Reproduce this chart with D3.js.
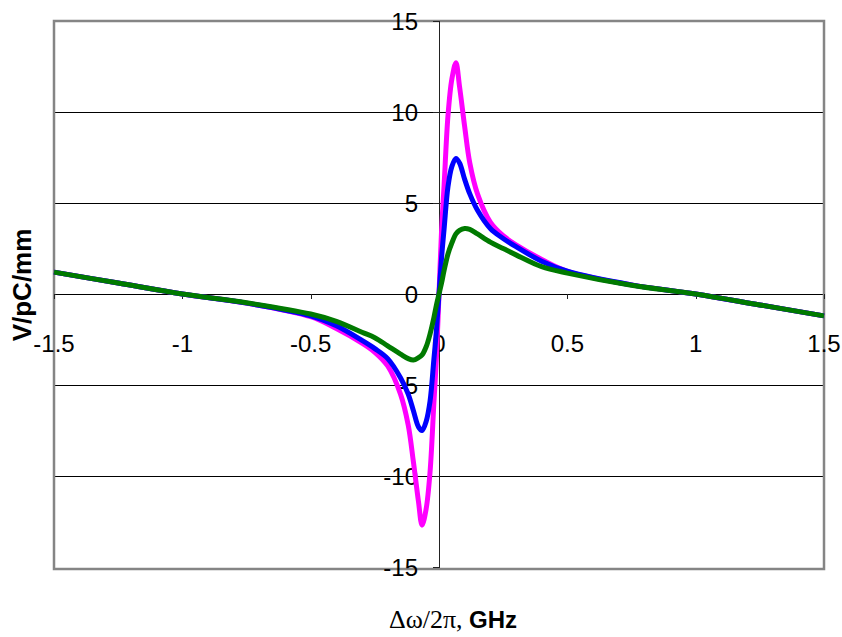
<!DOCTYPE html>
<html>
<head>
<meta charset="utf-8">
<script src="https://cdn.jsdelivr.net/npm/d3@7"></script>
<style>
  body { margin: 0; background: #fff; }
  svg { display: block; font-family: "Liberation Sans", Arial, sans-serif; }
  .tick-label { font-size: 24px; fill: #000; }
  .title { font-weight: bold; font-size: 24px; fill: #000; }
</style>
</head>
<body>
<div id="chart"></div>
<script>
'use strict'
// detuning, GHz
const freq = [-1.5, -1.25, -1.0, -0.75, -0.5, -0.4, -0.3, -0.25, -0.2, -0.15, -0.12, -0.1, -0.08, -0.066,
  -0.05, -0.035, -0.02, -0.01, 0, 0.01, 0.02, 0.035, 0.05, 0.066, 0.08, 0.1, 0.12, 0.15, 0.2, 0.25, 0.3,
  0.4, 0.5, 0.75, 1.0, 1.25, 1.5]
const magenta = [1.2, 0.6, 0.0, -0.5, -1.25, -1.9, -2.7, -3.2, -3.95, -5.5, -7.2, -9.2, -11.4, -12.7,
  -11.8, -9.8, -6.0, -3.5, 0, 3.5, 6.0, 9.8, 11.8, 12.7, 11.4, 9.2, 7.2, 5.5, 3.95, 3.2, 2.7,
  1.9, 1.25, 0.5, 0.0, -0.6, -1.2]
const blue = [1.2, 0.6, 0.0, -0.5, -1.2, -1.75, -2.55, -3.0, -3.55, -4.6, -5.5, -6.4, -7.3, -7.5,
  -7.0, -5.9, -3.6, -2.0, 0, 2.0, 3.6, 5.9, 7.0, 7.45, 7.2, 6.3, 5.5, 4.6, 3.6, 3.05, 2.6,
  1.8, 1.25, 0.5, 0.0, -0.6, -1.2]
const green = [1.2, 0.6, 0.0, -0.48, -1.1, -1.5, -2.1, -2.4, -2.85, -3.3, -3.55, -3.63, -3.5, -3.35,
  -2.9, -2.2, -1.3, -0.6, 0, 0.6, 1.3, 2.2, 2.8, 3.3, 3.5, 3.6, 3.55, 3.3, 2.85, 2.5, 2.15,
  1.5, 1.15, 0.48, 0.0, -0.6, -1.2]
const xTicks = [-1.5, -1, -0.5, 0, 0.5, 1, 1.5]
const yTicks = [-15, -10, -5, 0, 5, 10, 15]

const width = 842, height = 637
const plot = {left: 54, right: 824, top: 21, bottom: 567}

const svg = d3.select("#chart")
  .append("svg")
    .attr("width", width)
    .attr("height", height)

const x = d3.scaleLinear().domain([-1.5, 1.5]).range([plot.left, plot.right])
const y = d3.scaleLinear().domain([-15, 15]).range([plot.bottom, plot.top])

// horizontal grid
svg.append("g")
  .attr("shape-rendering", "crispEdges")
  .selectAll("line")
  .data(yTicks.filter(d => Math.abs(d) < 15))
  .enter()
    .append("line")
    .attr("x1", plot.left)
    .attr("x2", plot.right)
    .attr("y1", d => Math.round(y(d)) + 0.5)
    .attr("y2", d => Math.round(y(d)) + 0.5)
    .attr("stroke", "#000")
    .attr("stroke-width", 1)

// frame
svg.append("rect")
  .attr("x", plot.left)
  .attr("y", plot.top)
  .attr("width", plot.right - plot.left)
  .attr("height", plot.bottom - plot.top + 2)
  .attr("fill", "none")
  .attr("stroke", "#858585")
  .attr("stroke-width", 2.5)

// y axis at x = 0
const yAxis = d3.axisLeft(y).tickValues(yTicks).tickSize(6).tickFormat("")
svg.append("g")
  .attr("transform", `translate(${Math.round(x(0))},0)`)
  .attr("shape-rendering", "crispEdges")
  .call(yAxis)
  .call(g => g.selectAll("path, line").attr("stroke", "#222"))

// x axis at y = 0
const xAxis = d3.axisBottom(x).tickValues(xTicks).tickSize(5).tickFormat("")
svg.append("g")
  .attr("transform", `translate(0,${Math.round(y(0))})`)
  .attr("shape-rendering", "crispEdges")
  .call(xAxis)
  .call(g => g.select(".domain").remove())
  .call(g => g.selectAll("line").attr("stroke", "#222"))

// tick labels
svg.append("g")
  .selectAll("text")
  .data(yTicks)
  .enter()
    .append("text")
    .attr("class", "tick-label")
    .attr("x", x(0) - 21)
    .attr("y", d => y(d) + 9)
    .attr("text-anchor", "end")
    .text(d => d)

svg.append("g")
  .selectAll("text")
  .data(xTicks)
  .enter()
    .append("text")
    .attr("class", "tick-label")
    .attr("x", d => x(d))
    .attr("y", y(0) + 58)
    .attr("text-anchor", "middle")
    .text(d => d)

// curves
const line = (vals) => d3.line()
  .x((d, i) => x(freq[i]))
  .y(d => y(d))
  .curve(d3.curveCatmullRom.alpha(0.5))(vals)

const series = [
  {vals: magenta, color: "#ff00ff"},
  {vals: blue, color: "#0000ff"},
  {vals: green, color: "#007a00"}
]
svg.append("g")
  .selectAll("path")
  .data(series)
  .enter()
    .append("path")
    .attr("d", d => line(d.vals))
    .attr("fill", "none")
    .attr("stroke", d => d.color)
    .attr("stroke-width", 5)
    .attr("stroke-linejoin", "round")

// axis titles
svg.append("text")
  .attr("class", "title")
  .attr("transform", `translate(31,285) rotate(-90)`)
  .attr("text-anchor", "middle")
  .style("font-size", "26px")
  .text("V/pC/mm")

const xt = svg.append("text")
  .attr("class", "title")
  .attr("x", 453)
  .attr("y", 628)
  .attr("text-anchor", "middle")
xt.append("tspan")
  .attr("font-family", "'Liberation Serif', 'Times New Roman', serif")
  .attr("font-weight", "normal")
  .style("font-size", "26px")
  .text("Δω/2π, ")
xt.append("tspan").text("GHz")
</script>
</body>
</html>
